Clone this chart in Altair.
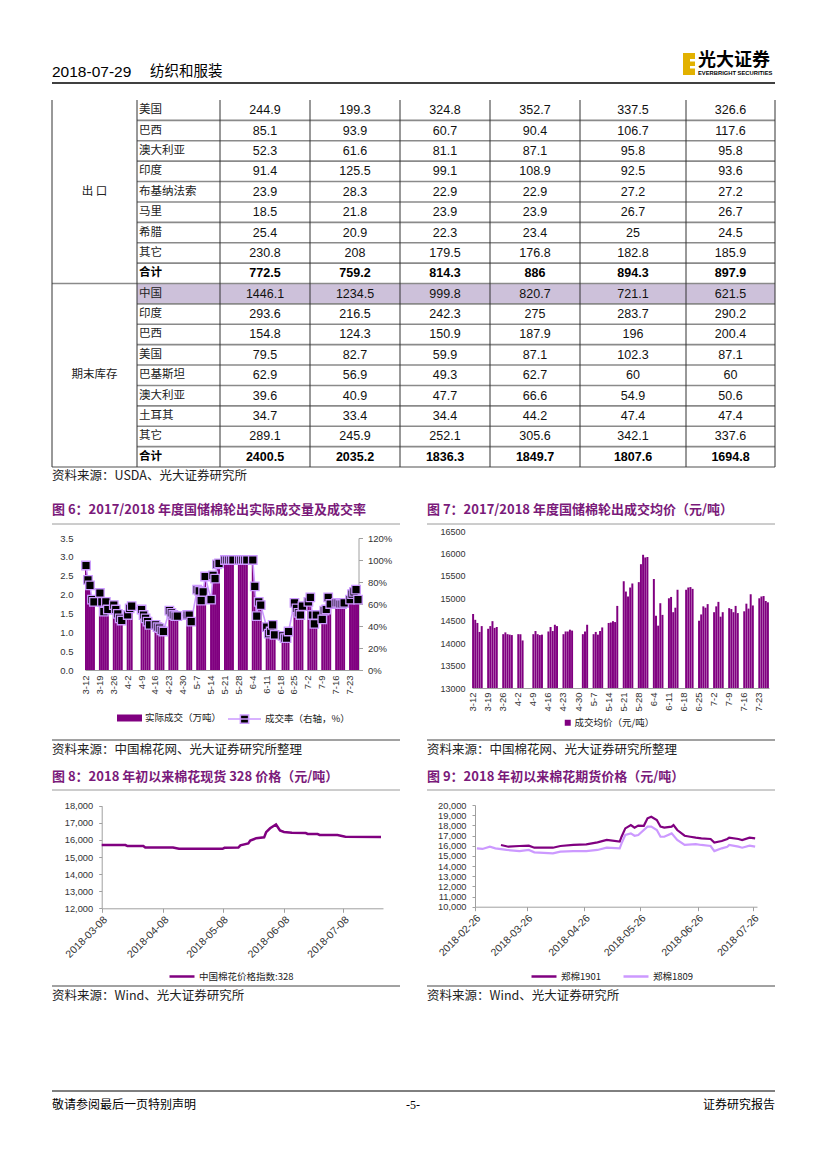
import altair as alt
import pandas as pd

W, H = 811, 1150
CJK = "Noto Sans CJK SC"
LAT = "Liberation Sans"
PURPLE = "#800080"
LILAC = "#cc99ff"
TITLE_C = "#7a1a7a"


def P(v):
    """page pixel -> chart pixel"""
    return v - 8


# ------------------------------------------------------------------ table data
export_countries = ["美国", "巴西", "澳大利亚", "印度", "布基纳法索", "马里", "希腊", "其它", "合计"]
export_values = [
    [244.9, 199.3, 324.8, 352.7, 337.5, 326.6],
    [85.1, 93.9, 60.7, 90.4, 106.7, 117.6],
    [52.3, 61.6, 81.1, 87.1, 95.8, 95.8],
    [91.4, 125.5, 99.1, 108.9, 92.5, 93.6],
    [23.9, 28.3, 22.9, 22.9, 27.2, 27.2],
    [18.5, 21.8, 23.9, 23.9, 26.7, 26.7],
    [25.4, 20.9, 22.3, 23.4, 25, 24.5],
    [230.8, 208, 179.5, 176.8, 182.8, 185.9],
    [772.5, 759.2, 814.3, 886, 894.3, 897.9],
]
stock_countries = ["中国", "印度", "巴西", "美国", "巴基斯坦", "澳大利亚", "土耳其", "其它", "合计"]
stock_values = [
    [1446.1, 1234.5, 999.8, 820.7, 721.1, 621.5],
    [293.6, 216.5, 242.3, 275, 283.7, 290.2],
    [154.8, 124.3, 150.9, 187.9, 196, 200.4],
    [79.5, 82.7, 59.9, 87.1, 102.3, 87.1],
    [62.9, 56.9, 49.3, 62.7, 60, 60],
    [39.6, 40.9, 47.7, 66.6, 54.9, 50.6],
    [34.7, 33.4, 34.4, 44.2, 47.4, 47.4],
    [289.1, 245.9, 252.1, 305.6, 342.1, 337.6],
    [2400.5, 2035.2, 1836.3, 1849.7, 1807.6, 1694.8],
]
group_names = ["出 口", "期末库存"]

# ------------------------------------------------------------------ fig 6 / 7 data
trade_days = [
    "3-12", "3-13", "3-14", "3-15", "3-16",
    "3-19", "3-20", "3-21", "3-22", "3-23",
    "3-26", "3-27", "3-28", "3-29", "3-30",
    "4-2", "4-3", "4-4",
    "4-9", "4-10", "4-11", "4-12", "4-13",
    "4-16", "4-17", "4-18", "4-19", "4-20",
    "4-23", "4-24", "4-25", "4-26", "4-27",
    "5-2", "5-3", "5-4",
    "5-7", "5-8", "5-9", "5-10", "5-11",
    "5-14", "5-15", "5-16", "5-17", "5-18",
    "5-21", "5-22", "5-23", "5-24", "5-25",
    "5-28", "5-29", "5-30", "5-31", "6-1",
    "6-4", "6-5", "6-6", "6-7", "6-8",
    "6-11", "6-12", "6-13", "6-14", "6-15",
    "6-19", "6-20", "6-21", "6-22",
    "6-25", "6-26", "6-27", "6-28", "6-29",
    "7-2", "7-3", "7-4", "7-5", "7-6",
    "7-9", "7-10", "7-11", "7-12", "7-13",
    "7-16", "7-17", "7-18", "7-19", "7-20",
    "7-23", "7-24", "7-25", "7-26", "7-27",
]
deal_volume = [
    2.84, 2.46, 2.31, 1.92, 1.86,
    2.10, 1.86, 1.59, 1.86, 1.65,
    1.77, 1.65, 1.53, 1.41, 1.35,
    1.50, 1.68, 1.74,
    1.65, 1.50, 1.41, 1.32, 1.23,
    1.23, 1.17, 1.14, 1.08, 1.05,
    1.62, 1.56, 1.50, 1.47, 1.47,
    1.50, 1.50, 1.32,
    2.19, 2.16, 1.89, 2.13, 2.55,
    1.92, 2.58, 2.49, 2.88, 2.91,
    3.0, 3.0, 3.0, 3.0, 3.0,
    3.0, 3.0, 3.0, 3.0, 3.0,
    3.0, 2.28, 1.47, 1.86, 1.77,
    1.17, 0.99, 1.05, 1.23, 0.96,
    0.93, 0.87, 0.87, 1.05,
    1.83, 1.68, 1.56, 1.50, 1.74,
    1.86, 1.98, 1.50, 1.26, 1.50,
    1.38, 1.62, 1.65, 1.98, 1.80,
    1.83, 1.83, 1.80, 1.80, 1.83,
    1.92, 2.07, 2.13, 2.19, 1.92,
]
deal_rate = [
    95, 82, 77, 64, 62,
    70, 62, 53, 62, 55,
    59, 55, 51, 47, 45,
    50, 56, 58,
    55, 50, 47, 44, 41,
    41, 39, 38, 36, 35,
    54, 52, 50, 49, 49,
    50, 50, 44,
    73, 72, 63, 71, 85,
    64, 86, 83, 96, 97,
    100, 100, 100, 100, 100,
    100, 100, 100, 100, 100,
    100, 76, 49, 62, 59,
    39, 33, 35, 41, 32,
    31, 29, 29, 35,
    61, 56, 52, 50, 58,
    62, 66, 50, 42, 50,
    46, 54, 55, 66, 60,
    61, 61, 60, 60, 61,
    64, 69, 71, 73, 64,
]
avg_price = [
    14650, 14520, 14450, 14250, 14380,
    14320, 14380, 14490, 14340, 14360,
    14200, 14240, 14200, 14190, 14180,
    14200, 14200, 14060,
    14200, 14270, 14200, 14180, 14190,
    14260, 14360, 14270, 14410, 14380,
    14200, 14260, 14260, 14300, 14280,
    14200, 14260, 14410,
    14200, 14250, 14190, 14270, 14350,
    14450, 14460, 14490, 14470, 14830,
    15380, 15150, 15040, 15240, 15330,
    15360, 15760, 15970, 15910, 15920,
    15430, 14610, 14390, 14890, 14630,
    15000, 15030, 14690, 14790, 15190,
    15190, 15240, 15250, 15210,
    14500, 14640, 14820, 14790, 14870,
    14690, 14820, 14920, 14590, 14690,
    14780, 14760, 14690, 14830, 14670,
    14710, 14880, 14770, 15090, 14840,
    15000, 15040, 15050, 14940, 14910,
]

# ------------------------------------------------------------------ fig 8 data
spot_dates = ["2018-03-08", "2018-03-20", "2018-03-21", "2018-03-29", "2018-03-30",
              "2018-04-13", "2018-04-16", "2018-05-08", "2018-05-09", "2018-05-16",
              "2018-05-17", "2018-05-21", "2018-05-22", "2018-05-25", "2018-05-29",
              "2018-05-30", "2018-06-01", "2018-06-04", "2018-06-06", "2018-06-08",
              "2018-06-12", "2018-06-19", "2018-06-20", "2018-06-25", "2018-06-26",
              "2018-07-05", "2018-07-09", "2018-07-27"]
spot_328 = [15700, 15700, 15640, 15640, 15550,
            15550, 15480, 15480, 15540, 15550,
            15680, 15790, 15960, 16100, 16150,
            16450, 16680, 16900, 16550, 16460,
            16420, 16400, 16350, 16340, 16290,
            16290, 16190, 16170]

# ------------------------------------------------------------------ fig 9 data
f1901_dates = ["2018-03-12", "2018-03-16", "2018-03-22", "2018-03-27", "2018-03-30",
               "2018-04-09", "2018-04-13", "2018-04-20", "2018-04-27", "2018-05-03",
               "2018-05-08", "2018-05-15", "2018-05-16", "2018-05-18", "2018-05-21",
               "2018-05-23", "2018-05-25", "2018-05-28", "2018-05-30", "2018-06-01",
               "2018-06-04", "2018-06-06", "2018-06-08", "2018-06-12", "2018-06-13",
               "2018-06-15", "2018-06-19", "2018-06-22", "2018-06-25", "2018-06-28",
               "2018-07-03", "2018-07-05", "2018-07-09", "2018-07-12", "2018-07-13",
               "2018-07-18", "2018-07-20", "2018-07-24", "2018-07-27"]
f1901 = [16070, 15900, 15970, 16000, 15800,
         15800, 15970, 16070, 16130, 16330,
         16560, 16400, 16880, 17700, 18030,
         17770, 17970, 17950, 18690, 18850,
         18530, 17870, 17770, 17870, 18030,
         17540, 16980, 16880, 16790, 16720,
         16660, 16300, 16460, 16660, 16790,
         16660, 16560, 16790, 16720]
f1809_dates = ["2018-02-27", "2018-03-02", "2018-03-06", "2018-03-09", "2018-03-15",
               "2018-03-22", "2018-03-27", "2018-03-30", "2018-04-09", "2018-04-13",
               "2018-04-20", "2018-04-27", "2018-05-03", "2018-05-08", "2018-05-15",
               "2018-05-16", "2018-05-18", "2018-05-21", "2018-05-23", "2018-05-25",
               "2018-05-30", "2018-06-01", "2018-06-04", "2018-06-06", "2018-06-08",
               "2018-06-12", "2018-06-15", "2018-06-19", "2018-06-25", "2018-06-28",
               "2018-07-03", "2018-07-05", "2018-07-09", "2018-07-12", "2018-07-13",
               "2018-07-18", "2018-07-20", "2018-07-24", "2018-07-27"]
f1809 = [15740, 15680, 15900, 15740, 15580,
         15470, 15580, 15350, 15250, 15410,
         15470, 15470, 15580, 15800, 15740,
         16230, 17050, 17210, 16980, 17050,
         17870, 17870, 17540, 16880, 16880,
         17210, 16560, 16070, 16160, 16070,
         15970, 15470, 15740, 15900, 16070,
         15900, 15800, 16000, 15900]

# ------------------------------------------------------------------ helpers
ONE = pd.DataFrame({"k": [0]})


def txt(s, x, y, size=11, color="#000", weight="normal", align="left", font=CJK, baseline="middle"):
    return alt.Chart(ONE).mark_text(text=s, fontSize=size, color=color, fontWeight=weight,
                                    align=align, baseline=baseline, font=font).encode(
        x=alt.value(P(x)), y=alt.value(P(y)))


def hrule(x1, x2, y, color="#000", w=1.0):
    return alt.Chart(ONE).mark_rule(color=color, strokeWidth=w).encode(
        x=alt.value(P(x1)), x2=alt.value(P(x2)), y=alt.value(P(y)))


def box(x1, x2, y1, y2, color):
    return alt.Chart(ONE).mark_rect(color=color).encode(
        x=alt.value(P(x1)), x2=alt.value(P(x2)), y=alt.value(P(y1)), y2=alt.value(P(y2)))


def leg(x, y, **kw):
    d = dict(orient="none", legendX=P(x), legendY=P(y), direction="horizontal", title=None,
             labelFont=CJK, labelFontSize=9.5, labelColor="#222", padding=0, labelOffset=3,
             labelLimit=300)
    d.update(kw)
    return alt.Legend(**d)


AX = dict(title=None, grid=False, labelFont=LAT, labelColor="#333", domainColor="#a0a0a0",
          tickColor="#a0a0a0", labelOverlap=False)

# ------------------------------------------------------------------ decorations
decor = [
    txt("2018-07-29", 52, 72, size=15.5, font=LAT),
    txt("纺织和服装", 150, 72, size=14.5),
    hrule(52, 775, 83, "#000", 1.6),
    box(683, 695, 53, 75, "#e2b100"),
    box(690, 695, 59, 61.5, "#ffffff"),
    box(690, 695, 66, 68.5, "#ffffff"),
    txt("光大证券", 698, 61, size=18, weight="bold"),
    txt("EVERBRIGHT SECURITIES", 698, 72.5, size=5.8, weight="bold", font=LAT),
    txt("资料来源：USDA、光大证券研究所", 52, 476, size=12.5, color="#222"),
    txt("图 6：2017/2018 年度国储棉轮出实际成交量及成交率", 52, 510, size=13, color=TITLE_C, weight="bold"),
    txt("图 7：2017/2018 年度国储棉轮出成交均价（元/吨）", 427, 510, size=13, color=TITLE_C, weight="bold"),
    hrule(52, 400, 524, "#9a9a9a", 1),
    hrule(427, 775, 524, "#9a9a9a", 1),
    hrule(52, 400, 740, "#444", 1),
    hrule(427, 775, 740, "#444", 1),
    txt("资料来源：中国棉花网、光大证券研究所整理", 52, 750, size=12.5, color="#222"),
    txt("资料来源：中国棉花网、光大证券研究所整理", 427, 750, size=12.5, color="#222"),
    txt("图 8：2018 年初以来棉花现货 328 价格（元/吨）", 52, 777, size=13, color=TITLE_C, weight="bold"),
    txt("图 9：2018 年初以来棉花期货价格（元/吨）", 427, 777, size=13, color=TITLE_C, weight="bold"),
    hrule(52, 400, 790, "#9a9a9a", 1),
    hrule(427, 775, 790, "#9a9a9a", 1),
    hrule(52, 400, 986, "#444", 1),
    hrule(427, 775, 986, "#444", 1),
    txt("资料来源：Wind、光大证券研究所", 52, 996, size=12.5, color="#222"),
    txt("资料来源：Wind、光大证券研究所", 427, 996, size=12.5, color="#222"),
    hrule(52, 775, 1091, "#000", 1),
    txt("敬请参阅最后一页特别声明", 52, 1105, size=12),
    txt("-5-", 413, 1105, size=12, align="center", font="Liberation Serif"),
    txt("证券研究报告", 775, 1105, size=12, align="right"),
]

# ------------------------------------------------------------------ table
col_w = [85, 83, 90, 90, 90, 90, 106, 89]
edges = [52]
for w_ in col_w:
    edges.append(edges[-1] + w_)
n_rows = len(export_countries) + len(stock_countries)
TX = alt.Scale(domain=[8, 8 + W], range=[0, W], nice=False, zero=False)
TY = alt.Scale(domain=[0, n_rows], range=[P(100), P(467)], nice=False, zero=False)

all_names = export_countries + stock_countries
all_vals = export_values + stock_values
cells = []
names = []
for r, (nm, vals) in enumerate(zip(all_names, all_vals)):
    bold = nm == "合计"
    names.append({"x": edges[1] + 2, "y": r + 0.5, "t": nm, "b": bold})
    for c, v in enumerate(vals):
        cells.append({"x": (edges[c + 2] + edges[c + 3]) / 2, "y": r + 0.5, "t": str(v), "b": bold})
cells = pd.DataFrame(cells)
names = pd.DataFrame(names)
hl = pd.DataFrame({"x": [edges[1]], "x2": [edges[-1]], "y": [9], "y2": [10]})
hlines = pd.DataFrame({"x": [edges[0] if k in (9, n_rows) else edges[1] for k in range(1, n_rows + 1)],
                       "x2": [edges[-1]] * n_rows, "y": list(range(1, n_rows + 1))})
vlines = pd.DataFrame({"x": edges, "y": [0] * len(edges), "y2": [n_rows] * len(edges)})
groups = pd.DataFrame({"x": [(edges[0] + edges[1]) / 2] * 2, "y": [4.5, 13.5], "t": group_names})

tx = alt.X("x:Q", scale=TX, axis=None)
ty = alt.Y("y:Q", scale=TY, axis=None)
table = alt.layer(
    alt.Chart(hl).mark_rect(color="#cdc1da").encode(x=tx, x2="x2:Q", y=ty, y2="y2:Q"),
    alt.Chart(hlines).mark_rule(color="#8a8a8a", strokeWidth=1.6).encode(x=tx, x2="x2:Q", y=ty),
    alt.Chart(vlines).mark_rule(color="#333", strokeWidth=1).encode(x=tx, y=ty, y2="y2:Q"),
    alt.Chart(names).transform_filter("!datum.b").mark_text(align="left", font=CJK, fontSize=11.5, color="#222").encode(x=tx, y=ty, text="t:N"),
    alt.Chart(names).transform_filter("datum.b").mark_text(align="left", font=CJK, fontSize=11.5, fontWeight="bold", color="#000").encode(x=tx, y=ty, text="t:N"),
    alt.Chart(cells).transform_filter("!datum.b").mark_text(align="center", font=LAT, fontSize=12.5, color="#111").encode(x=tx, y=ty, text="t:N"),
    alt.Chart(cells).transform_filter("datum.b").mark_text(align="center", font=LAT, fontSize=12.5, fontWeight="bold", color="#000").encode(x=tx, y=ty, text="t:N"),
    alt.Chart(groups).mark_text(align="center", font=CJK, fontSize=11.5, color="#222").encode(x=tx, y=ty, text="t:N"),
)

# ------------------------------------------------------------------ fig 6 & 7
cal_days = [f"{d.month}-{d.day}" for d in pd.date_range("2018-03-12", "2018-07-27")]
mondays = [f"{d.month}-{d.day}" for d in pd.date_range("2018-03-12", "2018-07-23", freq="7D")]

df67 = pd.DataFrame({"day": trade_days, "vol": deal_volume, "rate": [r / 100 for r in deal_rate],
                     "price": avg_price, "s1": "实际成交（万吨）", "s2": "成交率（右轴，%）",
                     "s3": "成交均价（元/吨）"})

x6 = alt.X("day:N", scale=alt.Scale(domain=cal_days, range=[P(85), P(359)], paddingInner=0, paddingOuter=0),
           axis=alt.Axis(orient="bottom", offset=P(670) - H, values=mondays, labelAngle=-90, labelFontSize=9.5,
                         ticks=False, labelPadding=5, **AX))

bars6 = alt.Chart(df67).mark_bar().encode(
    x=x6,
    y=alt.Y("vol:Q", scale=alt.Scale(domain=[0, 3.5], range=[P(670), P(538)], nice=False),
            axis=alt.Axis(orient="left", offset=-P(85), values=[0, 0.5, 1, 1.5, 2, 2.5, 3, 3.5], format=".1f",
                          ticks=False, tickSize=0, domain=False, labelPadding=12, labelFontSize=9.5, **AX)),
    color=alt.Color("s1:N", scale=alt.Scale(domain=["实际成交（万吨）"], range=[PURPLE]),
                    legend=leg(117, 705.5, symbolType="M-1,-0.28H1V0.28H-1Z", symbolSize=625, symbolStrokeWidth=0)),
)
y_rate = alt.Y("rate:Q", scale=alt.Scale(domain=[0, 1.2], range=[P(670), P(538)], nice=False),
               axis=alt.Axis(orient="right", offset=P(358.5) - W, values=[0, 0.2, 0.4, 0.6, 0.8, 1.0, 1.2],
                             format=".0%", tickSize=4, labelPadding=5, labelFontSize=9.5, **AX))
line6 = alt.Chart(df67).mark_line(color=LILAC, strokeWidth=1.6).encode(x=x6, y=y_rate)
pts6 = alt.Chart(df67).mark_square(size=72, filled=True, stroke=LILAC, strokeWidth=1.3, opacity=1).encode(
    x=x6, y=y_rate,
    color=alt.Color("s2:N", scale=alt.Scale(domain=["成交率（右轴，%）"], range=["#000000"]),
                    legend=leg(227, 701.5, symbolType="M-1,0H1M-0.25,-0.25H0.25V0.25H-0.25Z", symbolSize=1089,
                               symbolStrokeColor=LILAC, symbolFillColor="#000000", symbolStrokeWidth=1.5)),
)
fig6 = alt.layer(bars6, alt.layer(line6, pts6)).resolve_scale(y="independent", color="independent")

fig7 = alt.Chart(df67).mark_bar().encode(
    x=alt.X("day:N", scale=alt.Scale(domain=cal_days, range=[P(472), P(769)], paddingInner=0.08, paddingOuter=0.05),
            axis=alt.Axis(orient="bottom", offset=P(688) - H, values=mondays, labelAngle=-90, labelFontSize=9.5,
                          ticks=False, labelPadding=4, **AX)),
    y=alt.Y("price:Q", scale=alt.Scale(domain=[13000, 16500], range=[P(688), P(531)], nice=False, zero=False),
            axis=alt.Axis(orient="left", offset=-P(472), values=list(range(13000, 16501, 500)), format="d",
                          ticks=False, tickSize=0, domain=False, labelPadding=7, labelFontSize=9, **AX)),
    y2=alt.datum(13000),
    color=alt.Color("s3:N", scale=alt.Scale(domain=["成交均价（元/吨）"], range=[PURPLE]),
                    legend=leg(563, 718, symbolType="square", symbolSize=36, labelOffset=2)),
)

# ------------------------------------------------------------------ fig 8
df8 = pd.DataFrame({"date": [d + "T00:00:00" for d in spot_dates], "v": spot_328, "s": "中国棉花价格指数:328"})
m8 = [alt.DateTime(year=2018, month=m, date=8) for m in [3, 4, 5, 6, 7]]
fig8 = alt.Chart(df8).mark_line(strokeWidth=2.5).encode(
    x=alt.X("date:T", scale=alt.Scale(domain=[alt.DateTime(year=2018, month=3, date=8),
                                              alt.DateTime(year=2018, month=7, date=28)],
                                      range=[P(101.7), P(383)]),
            axis=alt.Axis(orient="bottom", offset=P(908.3) - H, values=m8, format="%Y-%m-%d", labelAngle=-45,
                          tickSize=4, labelFontSize=10.5, labelPadding=2, **AX)),
    y=alt.Y("v:Q", scale=alt.Scale(domain=[12000, 18000], range=[P(908.3), P(805.7)], nice=False, zero=False),
            axis=alt.Axis(orient="left", offset=-P(101.7), values=list(range(12000, 18001, 1000)), format=",d",
                          tickSize=3, labelPadding=6, labelFontSize=9.3, **AX)),
    color=alt.Color("s:N", scale=alt.Scale(domain=["中国棉花价格指数:328"], range=[PURPLE]),
                    legend=leg(168, 962.5, symbolType="stroke", symbolSize=625, symbolStrokeWidth=2.5)),
)

# ------------------------------------------------------------------ fig 9
df9 = pd.concat([
    pd.DataFrame({"date": [d + "T00:00:00" for d in f1901_dates], "v": f1901, "s": "郑棉1901"}),
    pd.DataFrame({"date": [d + "T00:00:00" for d in f1809_dates], "v": f1809, "s": "郑棉1809"}),
])
m9 = [alt.DateTime(year=2018, month=m, date=26) for m in [2, 3, 4, 5, 6, 7]]
fig9 = alt.Chart(df9).mark_line(strokeWidth=2.2).encode(
    x=alt.X("date:T", scale=alt.Scale(domain=[alt.DateTime(year=2018, month=2, date=26),
                                              alt.DateTime(year=2018, month=7, date=28)],
                                      range=[P(475), P(757)]),
            axis=alt.Axis(orient="bottom", offset=P(906.7) - H, values=m9, format="%Y-%m-%d", labelAngle=-45,
                          tickSize=4, labelFontSize=10.5, labelPadding=2, **AX)),
    y=alt.Y("v:Q", scale=alt.Scale(domain=[10000, 20000], range=[P(906.7), P(805)], nice=False, zero=False),
            axis=alt.Axis(orient="left", offset=-P(475), values=list(range(10000, 20001, 1000)), format=",d",
                          tickSize=3, labelPadding=6, labelFontSize=9.3, **AX)),
    color=alt.Color("s:N", scale=alt.Scale(domain=["郑棉1901", "郑棉1809"], range=[PURPLE, LILAC]),
                    legend=leg(530, 962.5, symbolType="stroke", symbolSize=625, symbolStrokeWidth=2.5,
                               columnPadding=16)),
    detail="s:N",
)

chart = alt.layer(*decor, table, fig6, fig7, fig8, fig9).resolve_scale(
    x="independent", y="independent", color="independent"
).properties(width=W, height=H, padding=0).configure_view(stroke=None)

chart.save("out.html", embed_options={"renderer": "svg", "actions": False})
